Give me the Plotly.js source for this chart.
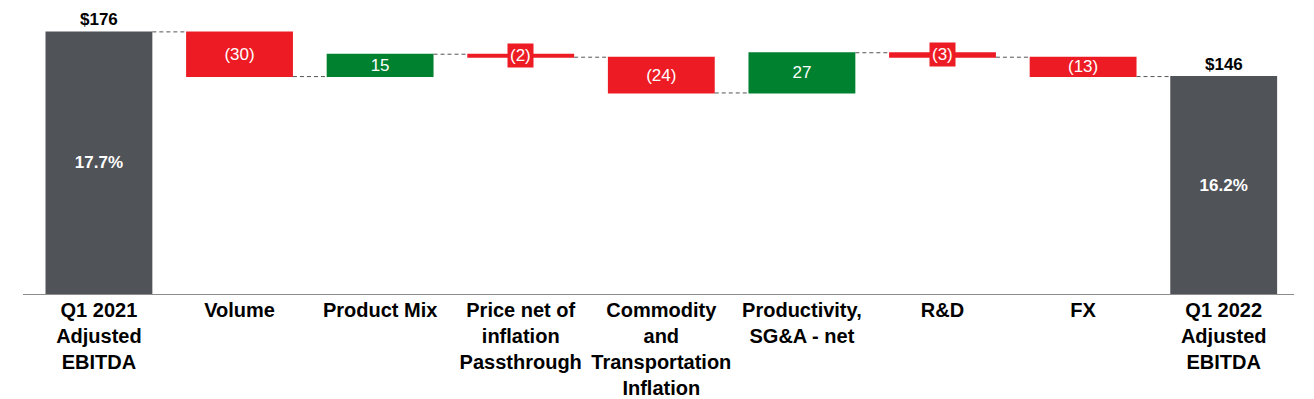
<!DOCTYPE html>
<html>
<head>
<meta charset="utf-8">
<script src="https://cdn.plot.ly/plotly-3.0.1.min.js"></script>
<style>html,body{margin:0;padding:0;background:#fff;}#chart{width:1314px;height:399px;}</style>
</head>
<body>
<div id="chart"></div>
<script>
const categories = ["Q1 2021<br>Adjusted<br>EBITDA", "Volume", "Product Mix", "Price net of<br>inflation<br>Passthrough", "Commodity<br>and<br>Transportation<br>Inflation", "Productivity,<br>SG&A - net", "R&D", "FX", "Q1 2022<br>Adjusted<br>EBITDA"];
const measures = ["absolute", "relative", "relative", "relative", "relative", "relative", "relative", "relative", "total"];
const values = [176, -30, 15, -2, -24, 27, -3, -13, 146];
const barLabels = ["<b>17.7%</b>", "(30)", "15", "(2)", "(24)", "27", "(3)", "(13)", "<b>16.2%</b>"];
const totalLabels = ["$176", "$146"];

const RED = "#ED1C24", GREEN = "#00812F", GRAY = "#505358";

// running totals for label positions
const starts = [], ends = [];
let run = 0;
values.forEach((v, i) => {
  if (measures[i] === "absolute") { starts.push(0); run = v; ends.push(run); }
  else if (measures[i] === "total") { starts.push(0); ends.push(run); }
  else { starts.push(run); run += v; ends.push(run); }
});

const smallIdx = values.map((v, i) => measures[i] === "relative" && Math.abs(v) < 5);
const textpos = smallIdx.map(s => s ? "none" : "inside");

const trace = {
  type: "waterfall",
  x: categories,
  y: values,
  measure: measures,
  text: barLabels,
  textposition: textpos,
  insidetextanchor: "middle",
  constraintext: "none",
  textangle: 0,
  textfont: {family: "Arial, Liberation Sans, sans-serif", size: 17, color: "#ffffff"},
  increasing: {marker: {color: GREEN}},
  decreasing: {marker: {color: RED}},
  totals: {marker: {color: GRAY}},
  connector: {mode: "between", line: {color: "#555555", width: 1, dash: "4px,3px"}},
  hoverinfo: "none"
};

const annotations = [];
// top labels for totals
let ti = 0;
measures.forEach((m, i) => {
  if (m === "absolute" || m === "total") {
    annotations.push({
      x: i, y: ends[i], xref: "x", yref: "y", text: "<b>" + totalLabels[ti++] + "</b>",
      showarrow: false, yanchor: "bottom", yshift: 1,
      font: {family: "Arial, Liberation Sans, sans-serif", size: 17, color: "#000"}
    });
  }
});
// boxed labels for small bars
smallIdx.forEach((s, i) => {
  if (s) {
    annotations.push({
      x: i, y: (starts[i] + ends[i]) / 2, xref: "x", yref: "y", text: barLabels[i],
      showarrow: false, bgcolor: RED, borderpad: 2,
      font: {family: "Arial, Liberation Sans, sans-serif", size: 17, color: "#fff"}
    });
  }
});

const layout = {
  width: 1314, height: 399,
  margin: {l: 23, r: 20, t: 10, b: 105},
  paper_bgcolor: "#ffffff", plot_bgcolor: "#ffffff",
  showlegend: false,
  waterfallgap: 0.24,
  xaxis: {
    type: "category", range: [-0.54, 8.5],
    showline: true, linecolor: "#8c8c8c", linewidth: 1,
    ticks: "", showgrid: false, zeroline: false,
    ticklabelstandoff: -2,
    tickfont: {family: "Arial, Liberation Sans, sans-serif", size: 20, color: "#000", weight: "bold"},
    tickangle: 0
  },
  yaxis: {range: [0, 190.7], visible: false, showgrid: false, zeroline: false},
  annotations: annotations
};

Plotly.newPlot("chart", [trace], layout, {displayModeBar: false, staticPlot: true});
</script>
</body>
</html>
